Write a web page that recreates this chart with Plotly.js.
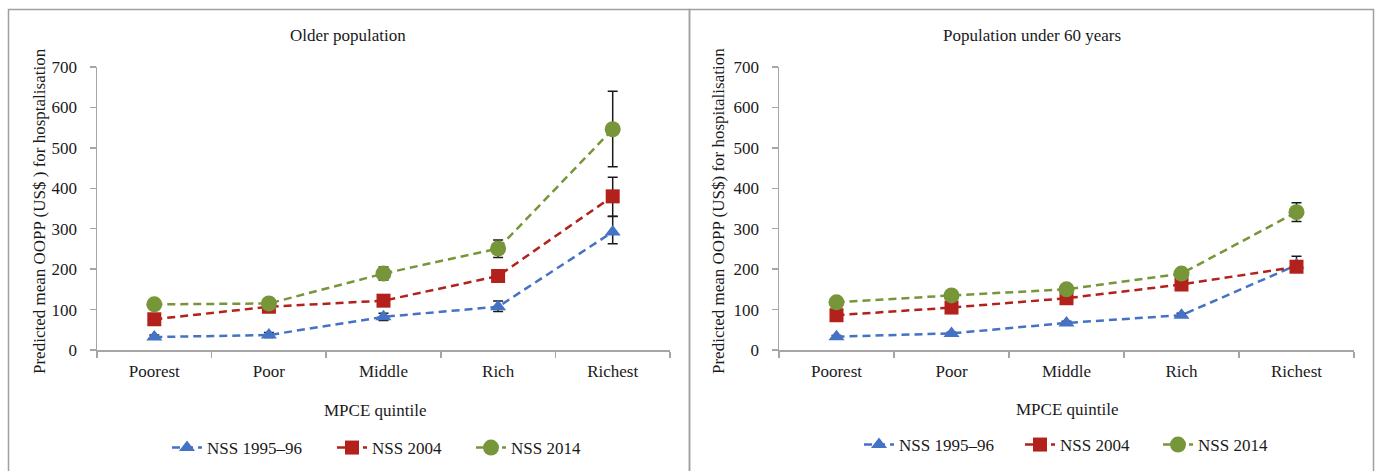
<!DOCTYPE html>
<html>
<head>
<meta charset="utf-8">
<script src="https://cdn.plot.ly/plotly-3.0.1.min.js"></script>
<style>html,body{margin:0;padding:0;background:#fff;}#chart{width:1376px;height:471px;}</style>
</head>
<body>
<div id="chart"></div>
<script>
// ---- data ----
const quintiles = ["Poorest", "Poor", "Middle", "Rich", "Richest"];
const seriesNames = ["NSS 1995–96", "NSS 2004", "NSS 2014"];

// Older population
const olderNSS1995 = [32, 37, 82, 107, 292];
const olderNSS1995ErrPlus = [5, 6, 9, 14, 38];
const olderNSS1995ErrMinus = [5, 6, 9, 12, 29];
const olderNSS2004 = [76, 107, 122, 183, 380];
const olderNSS2004ErrPlus = [7, 8, 9, 12, 47];
const olderNSS2004ErrMinus = [7, 8, 9, 12, 49];
const olderNSS2014 = [113, 115, 189, 251, 546];
const olderNSS2014ErrPlus = [8, 13, 16, 21, 94];
const olderNSS2014ErrMinus = [8, 11, 16, 22, 93];

// Population under 60 years
const youngNSS1995 = [33, 41, 67, 86, 210];
const youngNSS1995ErrPlus = [3, 3, 4, 5, 22];
const youngNSS1995ErrMinus = [3, 3, 4, 5, 12];
const youngNSS2004 = [86, 105, 128, 162, 206];
const youngNSS2004ErrPlus = [4, 4, 5, 6, 10];
const youngNSS2004ErrMinus = [4, 4, 5, 6, 10];
const youngNSS2014 = [118, 135, 150, 189, 341];
const youngNSS2014ErrPlus = [5, 5, 6, 8, 23];
const youngNSS2014ErrMinus = [5, 5, 6, 8, 23];

// ---- styles ----
const colors = ["#4472C4", "#B2211B", "#77963A"];
const symbols = ["triangle-up", "square", "circle"];
const sizes = [14, 14, 16];
const FONT = "Liberation Serif";
const W = 1376, H = 471;
const px = v => v / W;
const py = v => 1 - v / H;

function mk(vals, plus, minus, i, xa, ya, leg) {
  return {
    type: "scatter", mode: "lines+markers",
    x: quintiles, y: vals, name: seriesNames[i],
    xaxis: xa, yaxis: ya, legend: leg,
    line: {color: colors[i], width: 2.5, dash: "8px,5px"},
    marker: {color: colors[i], symbol: symbols[i], size: sizes[i]},
    error_y: {type: "data", symmetric: false, array: plus, arrayminus: minus,
      color: "#1a1a1a", thickness: 1.5, width: 5},
    hoverinfo: "x+y+name"
  };
}

const data = [
  mk(olderNSS1995, olderNSS1995ErrPlus, olderNSS1995ErrMinus, 0, "x", "y", "legend"),
  mk(olderNSS2004, olderNSS2004ErrPlus, olderNSS2004ErrMinus, 1, "x", "y", "legend2"),
  mk(olderNSS2014, olderNSS2014ErrPlus, olderNSS2014ErrMinus, 2, "x", "y", "legend3"),
  mk(youngNSS1995, youngNSS1995ErrPlus, youngNSS1995ErrMinus, 0, "x2", "y2", "legend4"),
  mk(youngNSS2004, youngNSS2004ErrPlus, youngNSS2004ErrMinus, 1, "x2", "y2", "legend5"),
  mk(youngNSS2014, youngNSS2014ErrPlus, youngNSS2014ErrMinus, 2, "x2", "y2", "legend6")
];

const axisColor = "#a6a6a6";
function xAxis(domain, anchor) {
  return {
    domain: domain, anchor: anchor, type: "category", range: [-0.5, 4.5],
    showline: true, linecolor: axisColor, linewidth: 1.5,
    ticks: "outside", tickson: "boundaries", ticklen: 6, tickcolor: axisColor, tickwidth: 1.5,
    showgrid: false, zeroline: false, fixedrange: true,
    ticklabelstandoff: 5,
    tickfont: {family: FONT, size: 17, color: "#1a1a1a"}
  };
}
function yAxis(anchor) {
  return {
    domain: [py(350), py(67)], anchor: anchor, range: [0, 700], dtick: 100,
    showline: true, linecolor: axisColor, linewidth: 1.5,
    ticks: "outside", ticklen: 6, tickcolor: axisColor, tickwidth: 1.5,
    showgrid: false, zeroline: false, fixedrange: true,
    ticklabelstandoff: 9,
    tickfont: {family: FONT, size: 17, color: "#1a1a1a"}
  };
}

const txt = {family: FONT, size: 17, color: "#1a1a1a"};
function leg(xpx, ypx) {
  return {orientation: "h", xanchor: "left", yanchor: "middle", x: px(xpx), y: py(ypx),
    font: {family: FONT, size: 17, color: "#1a1a1a"}, bgcolor: "rgba(0,0,0,0)"};
}

const layout = {
  width: W, height: H,
  margin: {l: 0, r: 0, t: 0, b: 0},
  paper_bgcolor: "#ffffff", plot_bgcolor: "#ffffff",
  font: {family: FONT},
  showlegend: true,
  xaxis: xAxis([px(97), px(670)], "y"),
  yaxis: yAxis("x"),
  xaxis2: xAxis([px(779), px(1354)], "y2"),
  yaxis2: yAxis("x2"),
  legend: leg(167, 448),
  legend2: leg(332, 448),
  legend3: leg(471, 448),
  legend4: leg(859, 445),
  legend5: leg(1020, 445),
  legend6: leg(1158, 445),
  shapes: [
    {type: "rect", xref: "paper", yref: "paper", x0: px(8.5), x1: px(689.5), y0: -0.05, y1: py(9.5),
      line: {color: "#a0a0a0", width: 1.5}},
    {type: "rect", xref: "paper", yref: "paper", x0: px(689.5), x1: px(1373.5), y0: -0.05, y1: py(9.5),
      line: {color: "#a0a0a0", width: 1.5}}
  ],
  annotations: [
    {text: "Older population", xref: "paper", yref: "paper", x: px(348), y: py(36),
      showarrow: false, xanchor: "center", yanchor: "middle", font: {family: FONT, size: 17, color: "#1a1a1a"}},
    {text: "Population under 60 years", xref: "paper", yref: "paper", x: px(1032), y: py(36),
      showarrow: false, xanchor: "center", yanchor: "middle", font: {family: FONT, size: 17, color: "#1a1a1a"}},
    {text: "MPCE quintile", xref: "paper", yref: "paper", x: px(375), y: py(410),
      showarrow: false, xanchor: "center", yanchor: "middle", font: txt},
    {text: "MPCE quintile", xref: "paper", yref: "paper", x: px(1067), y: py(409),
      showarrow: false, xanchor: "center", yanchor: "middle", font: txt},
    {text: "Predicted mean OOPP (US$ ) for hosptalisation", xref: "paper", yref: "paper",
      x: px(39), y: py(211), textangle: -90,
      showarrow: false, xanchor: "center", yanchor: "middle", font: txt},
    {text: "Predicted mean OOPP (US$) for hospitalisation", xref: "paper", yref: "paper",
      x: px(718), y: py(211), textangle: -90,
      showarrow: false, xanchor: "center", yanchor: "middle", font: txt}
  ]
};

Plotly.newPlot("chart", data, layout, {displayModeBar: false, staticPlot: true});
</script>
</body>
</html>
